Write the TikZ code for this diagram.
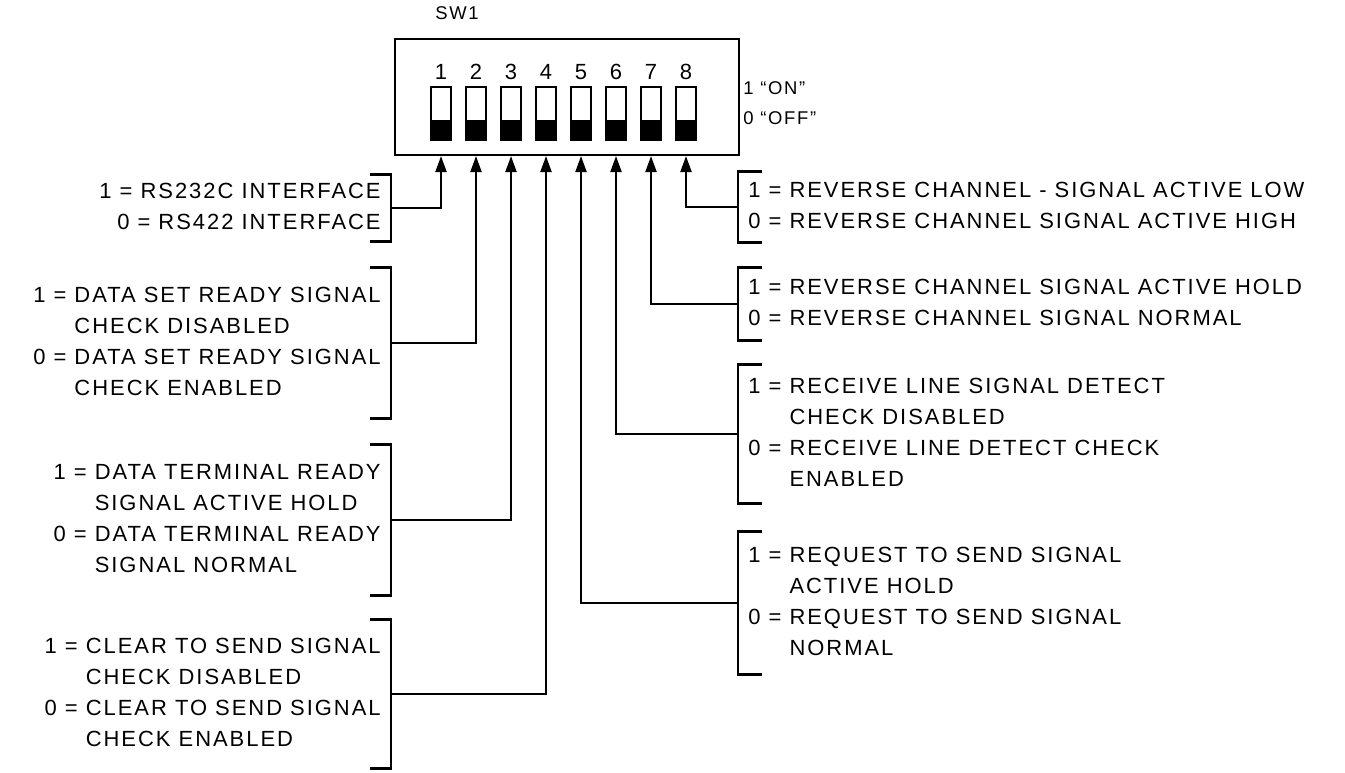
\documentclass[tikz,border=0pt]{standalone}
\usepackage{fontspec}
\setmainfont{Liberation Sans}[LetterSpace=9]
\usetikzlibrary{arrows.meta,positioning}
\tikzset{
  every picture/.style={x=0.02cm,y=-0.02cm},
  frame/.style={
    draw,
    line width=1.2pt,
    minimum width=6.88cm,
    minimum height=2.32cm,
    inner sep=0
  },
  dip/.style={
    draw,
    line width=1.3pt,
    minimum width=0.4cm,
    minimum height=1.06cm,
    inner sep=0
  },
  num/.style={
    font=\fontsize{12.5}{15}\selectfont,
    inner sep=0
  },
  sml/.style={
    font=\fontsize{10.5}{13}\selectfont,
    inner sep=0
  },
  lbl/.style={
    font=\fontsize{12.5}{17.6}\selectfont,
    inner ysep=0,
    inner xsep=0.2cm
  },
  lblL/.style={lbl, anchor=east},
  lblR/.style={lbl, anchor=west},
  brk/.style={line width=1.6pt},
  feed/.style={
    line width=1.2pt,
    -{Triangle[length=0.32cm,width=0.22cm]}
  }
}
\begin{document}
\begin{tikzpicture}
    \useasboundingbox (0,0) rectangle (1345,773);
    % switch block
    \node[sml] (swname) at (457,13) {SW1};
    \node[frame] (sw) at (567,97) {};
    \foreach \i in {1,...,8} {
        \node[num] (n\i) at ({441+35*(\i-1)},72) {\i};
        \node[dip] (s\i) at ({441+35*(\i-1)},113.5) {};
        \fill (s\i.south west) rectangle ([yshift=0.42cm]s\i.south east);
    }
    \node[sml, anchor=west] (on) at (743,88) {1 “ON”};
    \node[sml, anchor=west] (off) at (743,118) {0 “OFF”};
    % left settings
    \node[lblL, minimum height=1.34cm] (t1) at (391,208) {\begin{tabular}{@{}r@{}}1 = RS232C INTERFACE\\0 = RS422 INTERFACE\end{tabular}};
    \node[lblL, minimum height=3cm] (t2) at (391,343) {\begin{tabular}{@{}r@{ }l@{}}1 =&DATA SET READY SIGNAL\\&CHECK DISABLED\\0 =&DATA SET READY SIGNAL\\&CHECK ENABLED\end{tabular}};
    \node[lblL, minimum height=3cm] (t3) at (391,520) {\begin{tabular}{@{}r@{ }l@{}}1 =&DATA TERMINAL READY\\&SIGNAL ACTIVE HOLD\\0 =&DATA TERMINAL READY\\&SIGNAL NORMAL\end{tabular}};
    \node[lblL, minimum height=2.96cm] (t4) at (391,694) {\begin{tabular}{@{}r@{ }l@{}}1 =&CLEAR TO SEND SIGNAL\\&CHECK DISABLED\\0 =&CLEAR TO SEND SIGNAL\\&CHECK ENABLED\end{tabular}};
    % right settings
    \node[lblR, minimum height=1.4cm] (t8) at (738,207) {\begin{tabular}{@{}l@{}}1 = REVERSE CHANNEL - SIGNAL ACTIVE LOW\\0 = REVERSE CHANNEL SIGNAL ACTIVE HIGH\end{tabular}};
    \node[lblR, minimum height=1.44cm] (t7) at (738,304) {\begin{tabular}{@{}l@{}}1 = REVERSE CHANNEL SIGNAL ACTIVE HOLD\\0 = REVERSE CHANNEL SIGNAL NORMAL\end{tabular}};
    \node[lblR, minimum height=2.76cm] (t6) at (738,434) {\begin{tabular}{@{}r@{ }l@{}}1 =&RECEIVE LINE SIGNAL DETECT\\&CHECK DISABLED\\0 =&RECEIVE LINE DETECT CHECK\\&ENABLED\end{tabular}};
    \node[lblR, minimum height=2.86cm] (t5) at (738,603) {\begin{tabular}{@{}r@{ }l@{}}1 =&REQUEST TO SEND SIGNAL\\&ACTIVE HOLD\\0 =&REQUEST TO SEND SIGNAL\\&NORMAL\end{tabular}};
    % brackets and feeds
    \foreach \t/\s in {t1/s1,t2/s2,t3/s3,t4/s4} {
        \draw[brk] ([xshift=-0.42cm]\t.north east) -- (\t.north east) -- (\t.south east) -- ([xshift=-0.42cm]\t.south east);
        \draw[feed] (\t.east) -| (\s |- sw.south);
    }
    \foreach \t/\s in {t8/s8,t7/s7,t6/s6,t5/s5} {
        \draw[brk] ([xshift=0.48cm]\t.north west) -- (\t.north west) -- (\t.south west) -- ([xshift=0.48cm]\t.south west);
        \draw[feed] (\t.west) -| (\s |- sw.south);
    }
\end{tikzpicture}
\end{document}
